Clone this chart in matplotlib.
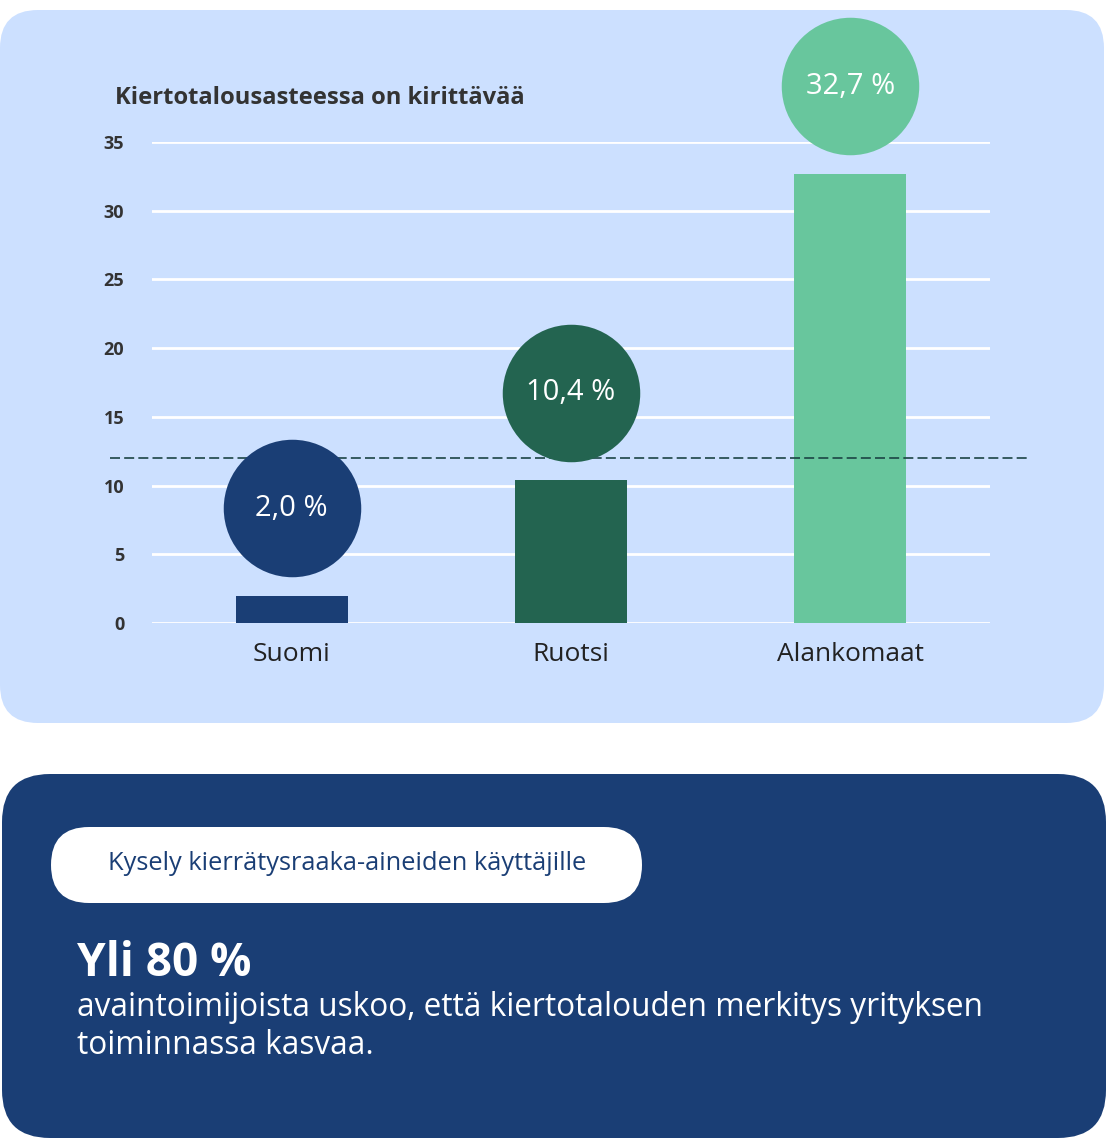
import matplotlib.pyplot as plt
from matplotlib.patches import FancyBboxPatch
from matplotlib.transforms import offset_copy

countries = ["Suomi", "Ruotsi", "Alankomaat"]
rates = [2.0, 10.4, 32.7]
rate_labels = ["2,0 %", "10,4 %", "32,7 %"]
bar_colors = ["#1a3e75", "#236450", "#68c69d"]
y_ticks = [0, 5, 10, 15, 20, 25, 30, 35]
eu_average = 12.0

W, H = 1108, 1142
plt.rcParams["font.family"] = ["Open Sans", "DejaVu Sans"]

fig = plt.figure(figsize=(W / 100, H / 100), dpi=100)
fig.patch.set_facecolor("white")

# background canvas in pixel units
bg = fig.add_axes([0, 0, 1, 1])
bg.set_xlim(0, W)
bg.set_ylim(H, 0)
bg.axis("off")

bg.add_patch(FancyBboxPatch((0, 10), 1104, 713, boxstyle="round,pad=0,rounding_size=38",
                            fc="#cce0ff", ec="none"))
bg.add_patch(FancyBboxPatch((2, 774), 1104, 364, boxstyle="round,pad=0,rounding_size=48",
                            fc="#1a3e75", ec="none"))
bg.add_patch(FancyBboxPatch((51, 827), 591, 76, boxstyle="round,pad=0,rounding_size=38",
                            fc="white", ec="none"))

bg.text(347, 864, "Kysely kierrätysraaka-aineiden käyttäjille", ha="center", va="center",
        fontsize=18.3, color="#1a3e75")
bg.text(77, 963, "Yli 80 %", ha="left", va="center", fontsize=33, fontweight="bold", color="white")
bg.text(77, 1008, "avaintoimijoista uskoo, että kiertotalouden merkitys yrityksen",
        ha="left", va="center", fontsize=22.8, color="white")
bg.text(77, 1045, "toiminnassa kasvaa.", ha="left", va="center", fontsize=22.8, color="white")

bg.text(115, 98, "Kiertotalousasteessa on kirittävää", ha="left", va="center",
        fontsize=17.1, fontweight="bold", color="#333333")

# chart
left, right, top, bottom = 152, 990, 142, 623
ax = fig.add_axes([left / W, 1 - bottom / H, (right - left) / W, (bottom - top) / H])
ax.set_facecolor("none")
ax.set_xlim(-0.5, 2.5)
ax.set_ylim(0, 35)

x = list(range(len(countries)))
ax.bar(x, rates, width=0.4, color=bar_colors, zorder=2)

ax.set_yticks(y_ticks)
ax.grid(axis="y", color="white", linewidth=2, zorder=0)
ax.tick_params(axis="y", length=0, pad=20, labelsize=13, labelcolor="#333333")
for lbl in ax.get_yticklabels():
    lbl.set_fontweight("bold")
ax.set_xticks(x)
ax.set_xticklabels(countries, fontsize=19, color="#222222")
ax.tick_params(axis="x", length=0, pad=14)
for s in ax.spines.values():
    s.set_visible(False)

ax.hlines(eu_average, -0.65, 2.635, colors="#1c4545", linewidth=1.2,
          linestyles=(0, (6, 2.5)), clip_on=False, zorder=3)

# value bubbles above bars
for xi, val, lab, col in zip(x, rates, rate_labels, bar_colors):
    tr = offset_copy(ax.transData, fig=fig, x=0, y=63, units="points")
    ax.scatter([xi], [val], s=99 ** 2, color=col, transform=tr, zorder=4, clip_on=False,
               linewidths=0)
    ax.text(xi, val, lab, transform=tr, ha="center", va="center", fontsize=21,
            color="white", zorder=5, clip_on=False)

fig.savefig("out.png", dpi=100, facecolor="white")
